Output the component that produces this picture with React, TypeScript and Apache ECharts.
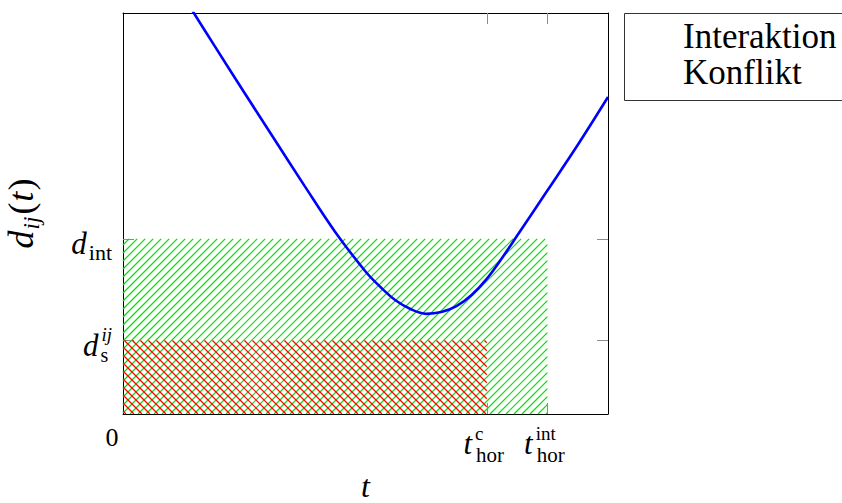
import React, { useEffect, useRef } from 'react';
import * as echarts from 'echarts';

// Distance curve d_ij(t)
const tValues = [1.15, 1.5, 2.0, 2.5, 3.0, 3.5, 4.0, 4.25, 4.5, 4.75, 5.0, 5.25, 5.5, 5.75, 6.0, 6.25, 6.5, 7.0, 7.5, 8.0];
const dValues = [11.5, 10.54, 9.18, 7.84, 6.5, 5.2, 4.07, 3.62, 3.24, 2.99, 2.86, 2.91, 3.08, 3.4, 3.86, 4.45, 5.09, 6.38, 7.68, 9.05];

// Thresholds
const tHorC = 6;
const tHorInt = 7;
const dS = 2.1;
const dInt = 5;

// Axis ranges and ticks
const xMin = 0;
const xMax = 8;
const yMin = 0;
const yMax = 11.45;
const xTickValues = [tHorC, tHorInt];
const xLabelValues = [0, tHorC, tHorInt];
const xTickLabels = ['{z|0}', '{t|t}{sup|c}{sub|hor}', '{t|t}{sup|int}{sub|hor}'];
const yTickValues = [dS, dInt];
const yTickLabels = ['{d|d}{sub|s}{sup2|ij}', '{d|d}{sub2|int}'];

// Hatched regions: [t0, d0, t1, d1]
const legendNames = ['Interaktion', 'Konflikt'];
const interaktionArea = [[0, 0, tHorInt, dInt]];
const konfliktArea = [[0, 0, tHorC, dS]];

const SERIF = "'Liberation Serif', 'DejaVu Serif', serif";
const HATCH_STEP = 8;
const GREEN = '#00e000';
const RED = '#ff0000';

function hatchRenderer(color: string, dir: 'ne' | 'nw') {
  return (params: any, api: any) => {
    const p0 = api.coord([api.value(0), api.value(1)]);
    const p1 = api.coord([api.value(2), api.value(3)]);
    const L = Math.min(p0[0], p1[0]);
    const R = Math.max(p0[0], p1[0]);
    const T = Math.min(p0[1], p1[1]);
    const B = Math.max(p0[1], p1[1]);
    const children: any[] = [];
    const style = { stroke: color, lineWidth: 1.2, fill: null };
    if (dir === 'ne') {
      for (let c = Math.ceil((L + T) / HATCH_STEP) * HATCH_STEP; c <= R + B; c += HATCH_STEP) {
        const xa = Math.max(L, c - B);
        const xb = Math.min(R, c - T);
        if (xb > xa) children.push({ type: 'line', shape: { x1: xa, y1: c - xa, x2: xb, y2: c - xb }, style, silent: true });
      }
    } else {
      for (let c = Math.ceil((L - B) / HATCH_STEP) * HATCH_STEP; c <= R - T; c += HATCH_STEP) {
        const xa = Math.max(L, c + T);
        const xb = Math.min(R, c + B);
        if (xb > xa) children.push({ type: 'line', shape: { x1: xa, y1: xa - c, x2: xb, y2: xb - c }, style, silent: true });
      }
    }
    return { type: 'group', children };
  };
}

export default function App() {
  const ref = useRef<HTMLDivElement>(null);
  useEffect(() => {
    if (!ref.current) return;
    const chart = echarts.init(ref.current, null, { renderer: 'svg' });

    const xRich = {
      z: { fontFamily: SERIF, fontSize: 26, lineHeight: 26, verticalAlign: 'top', align: 'left', padding: [0, 22, 0, 0], color: '#000' },
      t: { fontFamily: SERIF, fontStyle: 'italic', fontSize: 31, lineHeight: 31, verticalAlign: 'top', align: 'left', padding: [4, 3, 0, 0], color: '#000' },
      sup: { fontFamily: SERIF, fontSize: 19, lineHeight: 19, verticalAlign: 'top', width: 1, align: 'left', color: '#000' },
      sub: { fontFamily: SERIF, fontSize: 21, lineHeight: 21, verticalAlign: 'top', align: 'left', padding: [20, 6, 0, 0], color: '#000' },
    };
    const yRich = {
      d: { fontFamily: SERIF, fontStyle: 'italic', fontSize: 31, lineHeight: 31, verticalAlign: 'top', align: 'left', padding: [5, 2, 0, 0], color: '#000' },
      sub: { fontFamily: SERIF, fontSize: 20, lineHeight: 20, verticalAlign: 'top', padding: [20, 0, 0, 0], width: 1, align: 'left', color: '#000' },
      sup2: { fontFamily: SERIF, fontStyle: 'italic', fontSize: 19, lineHeight: 19, verticalAlign: 'top', align: 'left', color: '#000' },
      sub2: { fontFamily: SERIF, fontSize: 22, lineHeight: 22, verticalAlign: 'top', align: 'left', padding: [18, 0, 0, 0], color: '#000' },
    };

    const frame = { show: true, onZero: false, lineStyle: { color: '#000', width: 1 } };
    const tick = { show: true, inside: true, length: 11, lineStyle: { color: '#8c8c8c', width: 1 } };

    chart.setOption({
      animation: false,
      backgroundColor: '#fff',
      grid: { left: 123, right: 234, top: 13, bottom: 89, show: false, containLabel: false, outerBoundsMode: 'none' },
      legend: {
        data: legendNames,
        orient: 'vertical',
        left: 668,
        top: 13,
        itemWidth: 5,
        itemHeight: 5,
        itemGap: 0,
        selectedMode: false,
        itemStyle: { opacity: 0 },
        lineStyle: { opacity: 0 },
        textStyle: { fontFamily: SERIF, fontSize: 35, lineHeight: 36, color: '#000' },
      },
      xAxis: [
        {
          type: 'value', min: xMin, max: xMax, position: 'bottom',
          axisLine: frame,
          axisTick: { ...tick, customValues: xTickValues },
          splitLine: { show: false },
          axisLabel: {
            customValues: xLabelValues,
            margin: 10,
            formatter: (v: number) => xTickLabels[xLabelValues.indexOf(v)] ?? '',
            rich: xRich,
          },
          name: 't', nameLocation: 'middle', nameGap: 53,
          nameTextStyle: { fontFamily: SERIF, fontStyle: 'italic', fontSize: 32, lineHeight: 30, color: '#000' },
        },
        {
          type: 'value', min: xMin, max: xMax, position: 'top',
          axisLine: frame,
          axisTick: { ...tick, customValues: xTickValues },
          splitLine: { show: false },
          axisLabel: { show: false },
        },
      ],
      yAxis: [
        {
          type: 'value', min: yMin, max: yMax, position: 'left',
          axisLine: frame,
          axisTick: { ...tick, customValues: yTickValues },
          splitLine: { show: false },
          axisLabel: {
            customValues: yTickValues,
            margin: 11,
            formatter: (v: number) => yTickLabels[yTickValues.indexOf(v)] ?? '',
            rich: yRich,
          },
          name: '{d|d}{sub|ij}{p|(}{t|t}{p|)}',
          nameLocation: 'middle', nameGap: 86, nameRotate: 90,
          nameTextStyle: {
            rich: {
              d: { fontFamily: SERIF, fontStyle: 'italic', fontSize: 36, lineHeight: 36, verticalAlign: 'top', align: 'left', color: '#000', padding: [2, 1, 0, 0] },
              sub: { fontFamily: SERIF, fontStyle: 'italic', fontSize: 23, lineHeight: 23, verticalAlign: 'top', align: 'left', color: '#000', padding: [19, 2, 0, 0] },
              p: { fontFamily: SERIF, fontSize: 36, lineHeight: 36, verticalAlign: 'top', align: 'left', color: '#000', padding: [2, 0, 0, 0] },
              t: { fontFamily: SERIF, fontStyle: 'italic', fontSize: 36, lineHeight: 36, verticalAlign: 'top', align: 'left', color: '#000', padding: [2, 1, 0, 1] },
            },
          },
        },
        {
          type: 'value', min: yMin, max: yMax, position: 'right',
          axisLine: frame,
          axisTick: { ...tick, customValues: yTickValues },
          splitLine: { show: false },
          axisLabel: { show: false },
        },
      ],
      graphic: [
        {
          type: 'rect', x: 624.5, y: 13.5, shape: { width: 260, height: 87 },
          style: { fill: 'none', stroke: '#333', lineWidth: 1 }, silent: true, z: 10,
        },
      ],
      series: [
        {
          name: legendNames[0], type: 'custom', z: 1, silent: true,
          renderItem: hatchRenderer(GREEN, 'ne'),
          data: interaktionArea,
          encode: { x: [0, 2], y: [1, 3] },
          itemStyle: { color: GREEN },
        },
        {
          name: legendNames[1], type: 'custom', z: 2, silent: true,
          renderItem: hatchRenderer(RED, 'nw'),
          data: konfliktArea,
          encode: { x: [0, 2], y: [1, 3] },
          itemStyle: { color: RED },
        },
        {
          name: 'd', type: 'line', z: 5,
          data: tValues.map((t, i) => [t, dValues[i]]),
          smooth: 0.35, symbol: 'none', clip: true,
          lineStyle: { color: '#0000ff', width: 2.6 },
        },
      ],
    });
    return () => chart.dispose();
  }, []);
  return <div ref={ref} style={{ position: 'fixed', left: 0, top: 0, width: 842, height: 503, background: '#fff' }} />;
}
